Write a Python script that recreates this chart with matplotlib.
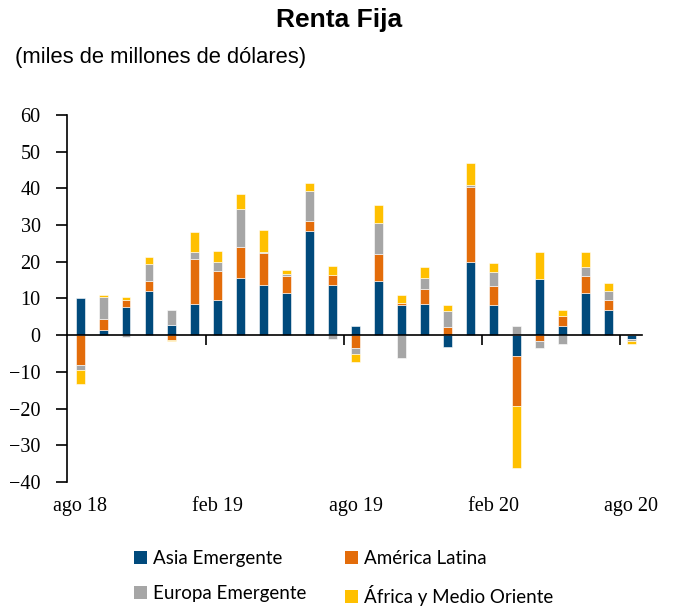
import numpy as np
import matplotlib
matplotlib.use('Agg')
import matplotlib.pyplot as plt
from matplotlib.patches import Patch
import matplotlib.transforms as mtransforms

# meses (ago 18 - ago 20)
meses = ['ago 18', 'sep 18', 'oct 18', 'nov 18', 'dic 18', 'ene 19', 'feb 19',
         'mar 19', 'abr 19', 'may 19', 'jun 19', 'jul 19', 'ago 19', 'sep 19',
         'oct 19', 'nov 19', 'dic 19', 'ene 20', 'feb 20', 'mar 20', 'abr 20',
         'may 20', 'jun 20', 'jul 20', 'ago 20']

asia = [10.1, 1.3, 7.6, 12.0, 2.8, 8.4, 9.6, 15.6, 13.6, 11.4, 28.5, 13.6, 2.5,
        14.9, 8.1, 8.5, -3.1, 20.0, 8.1, -5.8, 15.3, 2.5, 11.4, 6.9, -0.9]
america = [-8.1, 3.2, 2.1, 2.8, -1.3, 12.4, 8.0, 8.3, 8.9, 4.6, 2.7, 2.9, -3.5,
           7.1, 0.8, 4.0, 2.1, 20.3, 5.4, -13.5, -1.7, 2.8, 4.6, 2.7, 0.4]
europa = [-1.4, 6.0, -0.6, 4.7, 4.0, 2.0, 2.4, 10.5, 0.3, 0.8, 8.0, -1.1, -1.5,
          8.7, -6.2, 3.2, 4.4, 0.5, 3.8, 2.5, -1.8, -2.3, 2.5, 2.5, -0.8]
africa = [-3.9, 0.5, 0.7, 1.7, -0.4, 5.3, 2.9, 4.0, 6.0, 0.9, 2.3, 2.4, -2.4,
          4.8, 2.0, 2.8, 1.6, 6.0, 2.3, -16.8, 7.5, 1.6, 4.3, 2.0, -0.6]

series = [('Asia Emergente', asia, '#004A7C'),
          ('América Latina', america, '#E36C0A'),
          ('Europa Emergente', europa, '#A6A6A6'),
          ('África y Medio Oriente', africa, '#FFC000')]

etiquetas = ['ago 18', 'feb 19', 'ago 19', 'feb 20', 'ago 20']

serif = ['Liberation Serif', 'DejaVu Serif']
sans = ['Liberation Sans', 'DejaVu Sans']

fig = plt.figure(figsize=(6.79, 6.13), dpi=100)
ax = fig.add_axes([67/679, 1-482/613, (642-67)/679, (482-115)/613])

x = np.arange(len(meses))
pos = np.zeros(len(meses))
neg = np.zeros(len(meses))
for nombre, vals, col in series:
    v = np.array(vals)
    base = np.where(v >= 0, pos, neg)
    ax.bar(x, v, 0.39, bottom=base, color=col, edgecolor='white', linewidth=0.4)
    pos = pos + np.where(v >= 0, v, 0)
    neg = neg + np.where(v < 0, v, 0)

ax.set_xlim(-0.57, 24.47)
ax.set_ylim(-40, 60)
ax.set_yticks(np.arange(-40, 61, 10))
for lbl in ax.get_yticklabels():
    lbl.set_family(serif)
ax.tick_params(axis='y', direction='out', length=8, width=1.2, pad=11,
               labelsize=14.5)

ax.spines['top'].set_visible(False)
ax.spines['right'].set_visible(False)
ax.spines['left'].set_linewidth(1.2)
ax.spines['bottom'].set_position(('data', 0))
ax.spines['bottom'].set_linewidth(1.2)

idx = [meses.index(e) for e in etiquetas]
ax.set_xticks([i - 0.5 for i in idx[1:]])
ax.set_xticklabels([])
ax.tick_params(axis='x', direction='out', length=7, width=1.2)

trans = mtransforms.blended_transform_factory(ax.transData, ax.transAxes)
for i, e in zip(idx, etiquetas):
    ax.text(i, -0.066, e, transform=trans, ha='center', va='center',
            fontsize=14.5, family=serif)

fig.text(0.5, 0.968, 'Renta Fija', ha='center', va='center', fontsize=19,
         fontweight='bold', family=sans)
fig.text(0.022, 0.907, '(miles de millones de dólares)', ha='left',
         va='center', fontsize=15.8, family=sans)

# orden para que la leyenda quede en filas: Asia / América, Europa / África
orden = [0, 2, 1, 3]
handles = [Patch(facecolor=series[k][2], label=series[k][0]) for k in orden]
fig.legend(handles=handles, ncol=2, loc='center', bbox_to_anchor=(0.506, 0.057),
           frameon=False, prop={'family': ['Lato', 'DejaVu Sans'], 'size': 13.5},
           handlelength=0.7, handleheight=0.7, handletextpad=0.3,
           columnspacing=2.1, labelspacing=0.95)

fig.savefig('out.png', dpi=100)
